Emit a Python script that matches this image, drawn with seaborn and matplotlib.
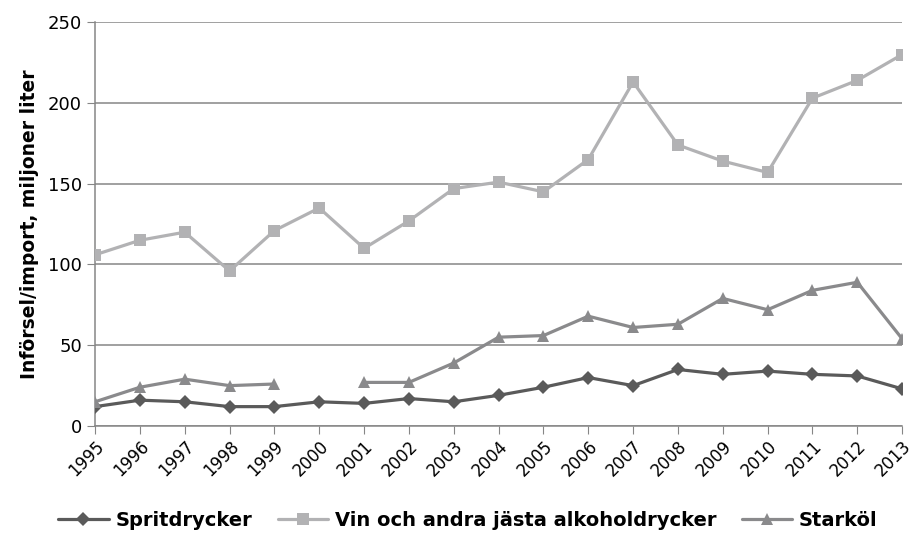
#!/usr/bin/env python3
import numpy as np
import pandas as pd
import matplotlib
matplotlib.use('Agg')
import matplotlib.pyplot as plt
from matplotlib.lines import Line2D
import seaborn as sns

# Data (miljoner liter)
years = list(range(1995, 2014))
sprit = [12, 16, 15, 12, 12, 15, 14, 17, 15, 19, 24, 30, 25, 35, 32, 34, 32, 31, 23]
vin = [106, 115, 120, 96, 121, 135, 110, 127, 147, 151, 145, 165, 213, 174, 164, 157, 203, 214, 230]
starkol = [15, 24, 29, 25, 26, np.nan, 27, 27, 39, 55, 56, 68, 61, 63, 79, 72, 84, 89, 54]

series_names = ["Spritdrycker", "Vin och andra jästa alkoholdrycker", "Starköl"]
series_values = [sprit, vin, starkol]
colors = ["#5a5a5a", "#b2b2b4", "#8a8a8c"]
markers = ["D", "s", "^"]
msizes = [7, 8, 9]

sns.set_style("white")
plt.rcParams['font.family'] = ['DejaVu Sans']
plt.rcParams['text.color'] = 'black'
plt.rcParams['axes.labelcolor'] = 'black'
plt.rcParams['xtick.color'] = 'black'
plt.rcParams['ytick.color'] = 'black'

fig = plt.figure(figsize=(9.14, 5.42), dpi=100)
ax = fig.add_axes([0.104, 0.214, 0.883, 0.745])

for name, vals, col, mk, ms in zip(series_names, series_values, colors, markers, msizes):
    df = pd.DataFrame({"year": years, "value": vals})
    # segment id so that missing years leave a gap in the line
    df["seg"] = df["value"].isna().cumsum()
    df = df.dropna()
    sns.lineplot(data=df, x="year", y="value", units="seg", estimator=None,
                 color=col, marker=mk, markersize=ms, markeredgewidth=0,
                 linewidth=2.3, ax=ax, legend=False, zorder=3)

ax.set_xlim(1995, 2013)
ax.set_ylim(0, 250)
ax.set_yticks([0, 50, 100, 150, 200, 250])
ax.set_xticks(years)
ax.set_xticklabels([str(y) for y in years], rotation=45, ha="right",
                   rotation_mode="anchor", fontsize=12)
ax.tick_params(axis="y", labelsize=13, length=6, color="#868686", direction="out", left=True)
ax.tick_params(axis="x", length=6, color="#868686", direction="out", bottom=True, pad=2)
ax.grid(axis="y", color="#868686", linewidth=1.1, zorder=0)
ax.set_axisbelow(True)
for side in ["top", "right"]:
    ax.spines[side].set_visible(False)
for side in ["left", "bottom"]:
    ax.spines[side].set_color("#868686")
    ax.spines[side].set_linewidth(1.1)

ax.set_xlabel("")
ax.set_ylabel("Införsel/import, miljoner liter", fontsize=13.5, fontweight="bold",
              color="black", labelpad=6)

handles = [Line2D([0], [0], color=c, marker=m, markersize=s, markeredgewidth=0, linewidth=2.3)
           for c, m, s in zip(colors, markers, msizes)]
fig.legend(handles, series_names, loc="lower center", bbox_to_anchor=(0.512, -0.01),
           ncol=3, frameon=False, prop={"weight": "bold", "size": 14},
           handlelength=2.6, columnspacing=1.3, handletextpad=0.35)

plt.savefig("out.png", dpi=100)
plt.close()
